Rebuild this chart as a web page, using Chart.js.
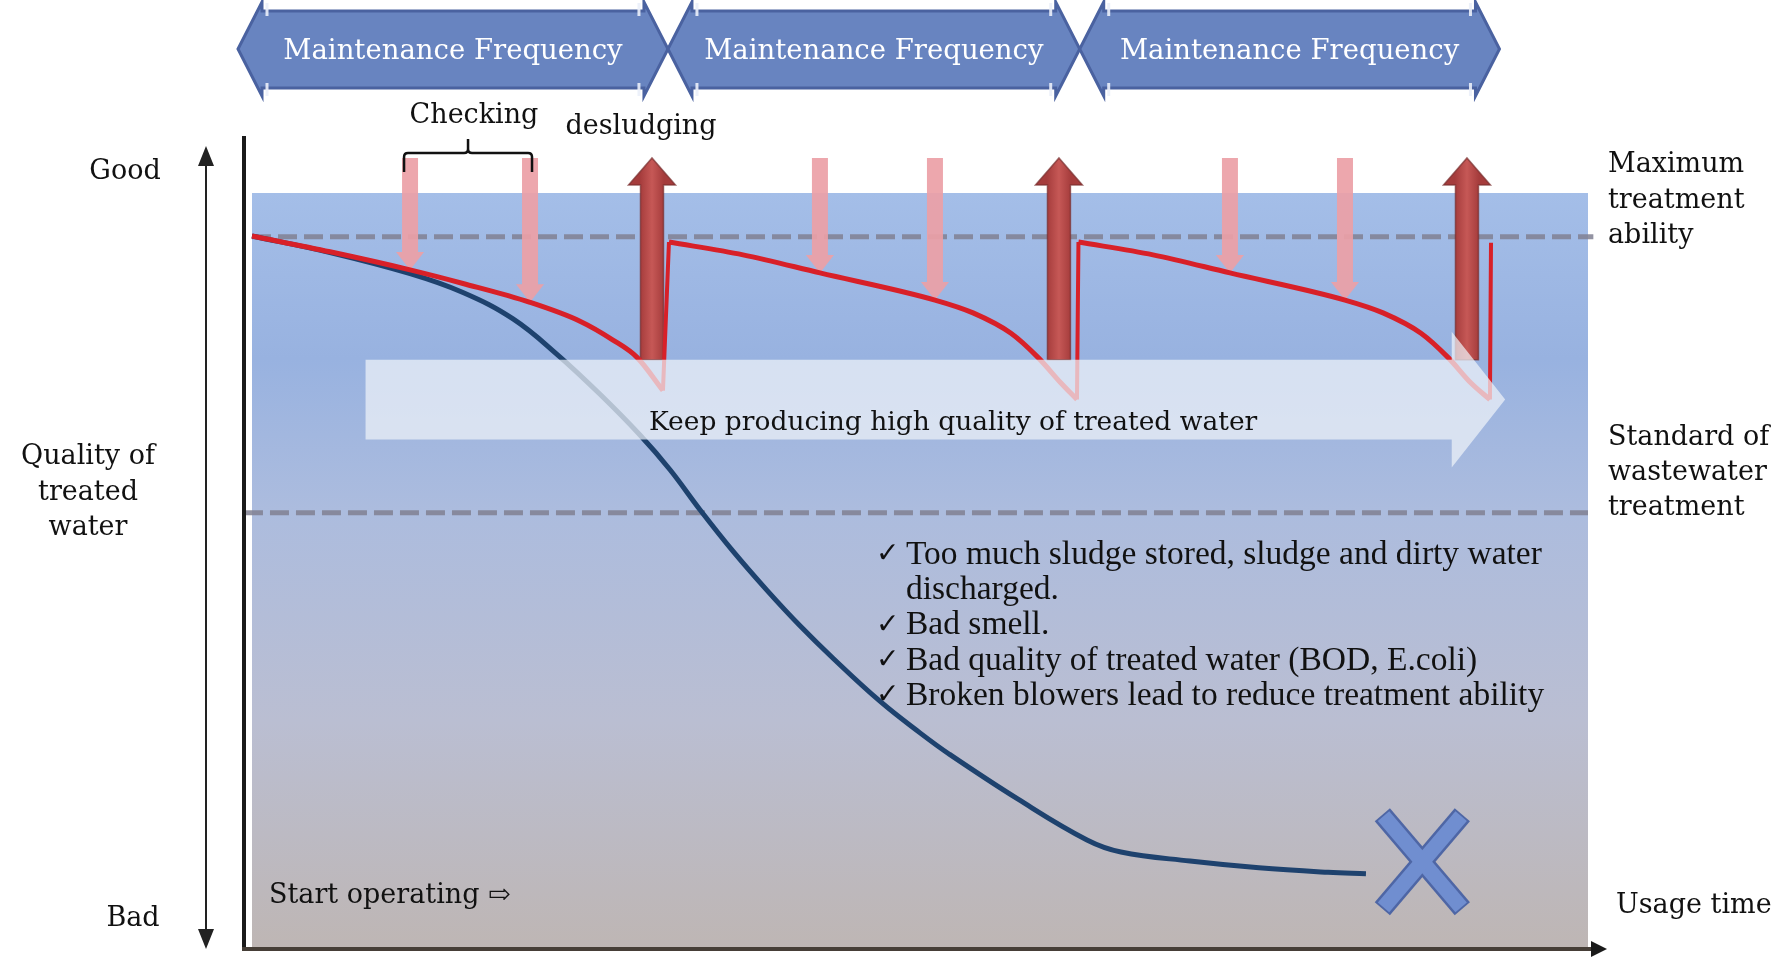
<!DOCTYPE html>
<html>
<head>
<meta charset="utf-8">
<script src="https://cdn.jsdelivr.net/npm/chart.js@4.4.1/dist/chart.umd.min.js"></script>
<style>
html, body { margin: 0; padding: 0; background: #fff; }
canvas { display: block; }
</style>
</head>
<body>
<canvas id="grafica" width="1778" height="957"></canvas>
<script>
// usage time (0-100) against quality of treated water (0-100)
// null marks a desludging jump between two cycles
var timeRed = [0, 5.84, 11.83, 15.79, 20.81, 24.55, 27.02, 28.82, 30.76, null,
    31.21, 36.75, 42.51, 51.12, 53.97, 56.81, 58.83, 60.55, 61.75, null,
    61.86, 67.44, 73.2, 81.81, 84.66, 87.5, 89.52, 91.24, 92.66, null,
    92.74];
var qualityRed = [94.3, 92.2, 89.8, 88.0, 85.5, 83.0, 80.5, 78.2, 73.8, null,
    93.5, 91.8, 89.4, 85.8, 84.1, 81.4, 78.2, 74.8, 72.6, null,
    93.5, 91.8, 89.4, 85.8, 84.1, 81.4, 78.2, 74.8, 72.6, null,
    93.4];

var timeBlue = [0, 5.84, 11.83, 15.79, 19.54, 22.83, 26.05, 29.04, 31.29, 33.53, 36.0, 38.55,
    41.02, 43.49, 47.0, 50.0, 52.17, 57.34, 62.5, 65.04, 70.21, 75.37, 80.54, 83.38];
var qualityBlue = [94.3, 92.1, 89.3, 86.8, 83.3, 78.6, 73.3, 67.9, 63.3, 58.0, 52.5, 47.3,
    42.6, 38.3, 32.6, 28.4, 25.6, 19.6, 14.2, 12.6, 11.4, 10.5, 9.9, 9.7];

var checkTimes = [11.83, 20.81, 42.51, 51.12, 73.2, 81.81];
var desludgeTimes = [29.94, 60.4, 90.94];

var maxAbility = 94.2;
var standardLevel = 57.6;
var failPoint = {x: 87.6, y: 11.3};

var bannerText = "Maintenance Frequency";
var problems = [
    ["\u2713", "Too much sludge stored, sludge and dirty water"],
    ["", "discharged."],
    ["\u2713", "Bad smell."],
    ["\u2713", "Bad quality of treated water (BOD, E.coli)"],
    ["\u2713", "Broken blowers lead to reduce treatment ability"]
];

// light arrow band "Keep producing ..." (data units)
var banda = {x0: 8.5, x1: 89.8, tip: 93.8, top: 77.9, bottom: 67.3, headTop: 81.6, headBottom: 63.6};

var SERIF = '"DejaVu Serif", serif';
var TIMES = '"Liberation Serif", "DejaVu Serif", serif';

function puntos(ts, qs) {
    var out = [];
    for (var i = 0; i < ts.length; i++) {
        out.push({x: ts[i] === null ? ts[i - 1] : ts[i], y: qs[i]});
    }
    return out;
}

function saltos() {
    var out = [];
    for (var i = 1; i < timeRed.length - 1; i++) {
        if (timeRed[i] === null) {
            out.push({x: timeRed[i - 1], y: qualityRed[i - 1]});
            out.push({x: timeRed[i + 1], y: qualityRed[i + 1]});
            out.push({x: timeRed[i + 1], y: null});
        }
    }
    return out;
}

function valorRojo(t) {
    for (var i = 0; i < timeRed.length - 1; i++) {
        if (timeRed[i] === null || timeRed[i + 1] === null) continue;
        if (t >= timeRed[i] && t <= timeRed[i + 1]) {
            var f = (t - timeRed[i]) / (timeRed[i + 1] - timeRed[i]);
            return qualityRed[i] + f * (qualityRed[i + 1] - qualityRed[i]);
        }
    }
    return qualityRed[0];
}

function texto(ctx, s, x, y, size, align, color, family) {
    ctx.save();
    ctx.font = size + "px " + (family || SERIF);
    ctx.fillStyle = color || "#111";
    ctx.textAlign = align || "left";
    ctx.textBaseline = "middle";
    ctx.fillText(s, x, y + 3);
    ctx.restore();
}

function flechaAbajo(ctx, x, top, tip) {
    ctx.save();
    ctx.fillStyle = "rgba(236,160,166,0.92)";
    ctx.beginPath();
    ctx.moveTo(x - 8, top);
    ctx.lineTo(x + 8, top);
    ctx.lineTo(x + 8, tip - 18);
    ctx.lineTo(x + 14, tip - 18);
    ctx.lineTo(x, tip);
    ctx.lineTo(x - 14, tip - 18);
    ctx.lineTo(x - 8, tip - 18);
    ctx.closePath();
    ctx.fill();
    ctx.restore();
}

function flechaArriba(ctx, x, bottom, tip) {
    ctx.save();
    var g = ctx.createLinearGradient(x - 12, 0, x + 12, 0);
    g.addColorStop(0, "rgb(165,60,60)");
    g.addColorStop(0.5, "rgb(198,88,86)");
    g.addColorStop(1, "rgb(165,60,60)");
    ctx.fillStyle = g;
    ctx.strokeStyle = "rgba(120,45,45,0.7)";
    ctx.lineWidth = 1.5;
    ctx.beginPath();
    ctx.moveTo(x - 11.5, bottom);
    ctx.lineTo(x - 11.5, tip + 27);
    ctx.lineTo(x - 23.5, tip + 27);
    ctx.lineTo(x, tip);
    ctx.lineTo(x + 23.5, tip + 27);
    ctx.lineTo(x + 11.5, tip + 27);
    ctx.lineTo(x + 11.5, bottom);
    ctx.closePath();
    ctx.fill();
    ctx.stroke();
    ctx.restore();
}

function cartel(ctx, L, R) {
    var top = 11, bot = 88, mid = 49, d = 24;
    ctx.save();
    ctx.fillStyle = "rgb(104,132,192)";
    ctx.strokeStyle = "rgb(74,98,160)";
    ctx.lineWidth = 3;
    ctx.beginPath();
    ctx.moveTo(L, mid);
    ctx.lineTo(L + d, 2);
    ctx.lineTo(L + d, top);
    ctx.lineTo(R - d, top);
    ctx.lineTo(R - d, 2);
    ctx.lineTo(R, mid);
    ctx.lineTo(R - d, 96);
    ctx.lineTo(R - d, bot);
    ctx.lineTo(L + d, bot);
    ctx.lineTo(L + d, 96);
    ctx.closePath();
    ctx.fill();
    ctx.stroke();
    // small light notches at the arrow heads
    ctx.strokeStyle = "rgba(235,240,250,0.9)";
    ctx.lineWidth = 3;
    [L + d + 5, R - d - 5].forEach(function (nx) {
        ctx.beginPath();
        ctx.moveTo(nx, top - 8); ctx.lineTo(nx, top + 5);
        ctx.moveTo(nx, bot - 5); ctx.lineTo(nx, bot + 8);
        ctx.stroke();
    });
    ctx.restore();
    texto(ctx, bannerText, (L + R) / 2, 49, 27.5, "center", "#ffffff");
}

var fondo = {
    id: "fondo",
    beforeDraw: function (chart) {
        var ctx = chart.ctx, a = chart.chartArea;
        ctx.save();
        ctx.fillStyle = "#ffffff";
        ctx.fillRect(0, 0, chart.width, chart.height);
        var g = ctx.createLinearGradient(0, a.top, 0, a.bottom);
        g.addColorStop(0, "rgb(164,190,232)");
        g.addColorStop(0.22, "rgb(152,178,224)");
        g.addColorStop(0.42, "rgb(172,188,222)");
        g.addColorStop(0.7, "rgb(186,190,210)");
        g.addColorStop(1, "rgb(190,182,180)");
        ctx.fillStyle = g;
        ctx.fillRect(a.left, a.top, a.right - a.left, a.bottom - a.top);
        ctx.restore();
    },
    beforeDatasetDraw: function (chart, args) {
        if (args.index !== 2) return;
        var ctx = chart.ctx, xs = chart.scales.x, ys = chart.scales.y;
        checkTimes.forEach(function (t) {
            flechaAbajo(ctx, xs.getPixelForValue(t), 158, ys.getPixelForValue(valorRojo(t)));
        });
        desludgeTimes.forEach(function (t) {
            flechaArriba(ctx, xs.getPixelForValue(t), ys.getPixelForValue(banda.top), 158);
        });
    },
    afterDatasetsDraw: function (chart) {
        var ctx = chart.ctx, a = chart.chartArea, xs = chart.scales.x, ys = chart.scales.y;
        var px = function (v) { return xs.getPixelForValue(v); };
        var py = function (v) { return ys.getPixelForValue(v); };

        // light arrow band
        ctx.save();
        ctx.fillStyle = "rgba(238,242,248,0.72)";
        ctx.beginPath();
        ctx.moveTo(px(banda.x0), py(banda.top));
        ctx.lineTo(px(banda.x1), py(banda.top));
        ctx.lineTo(px(banda.x1), py(banda.headTop));
        ctx.lineTo(px(banda.tip), py((banda.top + banda.bottom) / 2));
        ctx.lineTo(px(banda.x1), py(banda.headBottom));
        ctx.lineTo(px(banda.x1), py(banda.bottom));
        ctx.lineTo(px(banda.x0), py(banda.bottom));
        ctx.closePath();
        ctx.fill();
        ctx.restore();
        texto(ctx, "Keep producing high quality of treated water", 649, 420, 26.5);

        // axes
        ctx.save();
        ctx.strokeStyle = "#1a1a1a";
        ctx.lineWidth = 4;
        ctx.beginPath();
        ctx.moveTo(a.left - 8, 136);
        ctx.lineTo(a.left - 8, a.bottom + 3);
        ctx.stroke();
        ctx.strokeStyle = "rgb(70,62,55)";
        ctx.beginPath();
        ctx.moveTo(a.left - 10, a.bottom + 2);
        ctx.lineTo(a.right + 5, a.bottom + 2);
        ctx.stroke();
        ctx.fillStyle = "#1a1a1a";
        ctx.beginPath();
        ctx.moveTo(a.right + 19, a.bottom + 2);
        ctx.lineTo(a.right + 3, a.bottom - 6);
        ctx.lineTo(a.right + 3, a.bottom + 10);
        ctx.closePath();
        ctx.fill();
        // quality double arrow
        ctx.strokeStyle = "#222";
        ctx.lineWidth = 2;
        ctx.beginPath();
        ctx.moveTo(206, 160);
        ctx.lineTo(206, 935);
        ctx.stroke();
        ctx.fillStyle = "#222";
        ctx.beginPath();
        ctx.moveTo(206, 146); ctx.lineTo(198, 166); ctx.lineTo(214, 166); ctx.closePath();
        ctx.moveTo(206, 949); ctx.lineTo(198, 929); ctx.lineTo(214, 929); ctx.closePath();
        ctx.fill();
        ctx.restore();

        // banners, one per maintenance cycle
        var cortes = [px(0) - 14];
        for (var i = 0; i < timeRed.length; i++) {
            if (timeRed[i] === null) cortes.push((px(timeRed[i - 1]) + px(timeRed[i + 1])) / 2 + 2);
        }
        cortes[cortes.length - 1] = cortes[cortes.length - 1] + 7;
        for (var k = 0; k < cortes.length - 1; k++) cartel(ctx, cortes[k], cortes[k + 1]);

        // checking bracket
        var b0 = px(checkTimes[0]) - 6, b1 = px(checkTimes[1]) + 2, bm = (b0 + b1) / 2;
        ctx.save();
        ctx.strokeStyle = "#111";
        ctx.lineWidth = 2.5;
        ctx.beginPath();
        ctx.moveTo(b0, 172); ctx.lineTo(b0, 157); ctx.quadraticCurveTo(b0, 153, b0 + 4, 153);
        ctx.lineTo(bm - 4, 153); ctx.quadraticCurveTo(bm, 153, bm, 149); ctx.lineTo(bm, 139);
        ctx.moveTo(bm, 149); ctx.quadraticCurveTo(bm, 153, bm + 4, 153);
        ctx.lineTo(b1 - 4, 153); ctx.quadraticCurveTo(b1, 153, b1, 157); ctx.lineTo(b1, 172);
        ctx.stroke();
        ctx.restore();

        // failure mark
        var fx = px(failPoint.x), fy = py(failPoint.y);
        ctx.save();
        ctx.lineCap = "butt";
        var brazos = [[-40, -47, 40, 47], [40, -47, -40, 47]];
        ctx.strokeStyle = "rgb(78,102,165)";
        ctx.lineWidth = 20;
        brazos.forEach(function (b) {
            ctx.beginPath(); ctx.moveTo(fx + b[0], fy + b[1]); ctx.lineTo(fx + b[2], fy + b[3]); ctx.stroke();
        });
        ctx.strokeStyle = "rgb(112,142,208)";
        ctx.lineWidth = 15;
        brazos.forEach(function (b) {
            ctx.beginPath(); ctx.moveTo(fx + b[0] * 0.97, fy + b[1] * 0.97); ctx.lineTo(fx + b[2] * 0.97, fy + b[3] * 0.97); ctx.stroke();
        });
        ctx.restore();

        // texts
        texto(ctx, "Checking", 474, 113, 27, "center");
        texto(ctx, "desludging", 641, 124, 27, "center");
        texto(ctx, "Good", 125, 169, 27, "center");
        texto(ctx, "Quality of", 88, 454, 27, "center");
        texto(ctx, "treated", 88, 490, 27, "center");
        texto(ctx, "water", 88, 525, 27, "center");
        texto(ctx, "Bad", 133, 916, 27, "center");
        texto(ctx, "Maximum", 1608, 162, 27);
        texto(ctx, "treatment", 1608, 198, 27);
        texto(ctx, "ability", 1608, 233, 27);
        texto(ctx, "Standard of", 1608, 435, 27);
        texto(ctx, "wastewater", 1608, 470, 27);
        texto(ctx, "treatment", 1608, 505, 27);
        texto(ctx, "Start operating \u21e8", 269, 893, 27);
        texto(ctx, "Usage time", 1616, 903, 27);

        problems.forEach(function (p, j) {
            var y = 552 + j * 35.3;
            if (p[0]) texto(ctx, p[0], 876, y, 28, "left", "#111", '"DejaVu Sans", sans-serif');
            texto(ctx, p[1], 906, y, 33.5, "left", "#111", TIMES);
        });
    }
};

var grafica = new Chart(document.getElementById("grafica"), {
    type: "line",
    data: {
        datasets: [
            {
                label: "With maintenance",
                data: puntos(timeRed, qualityRed),
                borderColor: "rgb(216,32,40)",
                borderWidth: 5,
                cubicInterpolationMode: "monotone",
                spanGaps: false,
                clip: false
            },
            {
                label: "Desludging",
                data: saltos(),
                borderColor: "rgb(216,32,40)",
                borderWidth: 4,
                tension: 0,
                spanGaps: false,
                clip: false
            },
            {
                label: "Without maintenance",
                data: puntos(timeBlue, qualityBlue),
                borderColor: "rgb(30,66,110)",
                borderWidth: 5,
                tension: 0.4,
                clip: false
            },
            {
                label: "Maximum treatment ability",
                data: [{x: 0, y: maxAbility}, {x: 100.4, y: maxAbility}],
                borderColor: "rgba(128,128,146,0.85)",
                borderWidth: 5,
                borderDash: [19, 7],
                clip: false
            },
            {
                label: "Standard of wastewater treatment",
                data: [{x: -0.6, y: standardLevel}, {x: 100, y: standardLevel}],
                borderColor: "rgba(128,128,146,0.85)",
                borderWidth: 5,
                borderDash: [19, 7],
                clip: false
            }
        ]
    },
    options: {
        responsive: false,
        devicePixelRatio: 1,
        animation: false,
        events: [],
        layout: {padding: {left: 252, right: 190, top: 193, bottom: 10}},
        scales: {
            x: {type: "linear", min: 0, max: 100, display: false},
            y: {type: "linear", min: 0, max: 100, display: false}
        },
        elements: {
            point: {radius: 0},
            line: {borderCapStyle: "butt", borderJoinStyle: "round"}
        },
        plugins: {legend: {display: false}, tooltip: {enabled: false}}
    },
    plugins: [fondo]
});
</script>
</body>
</html>
